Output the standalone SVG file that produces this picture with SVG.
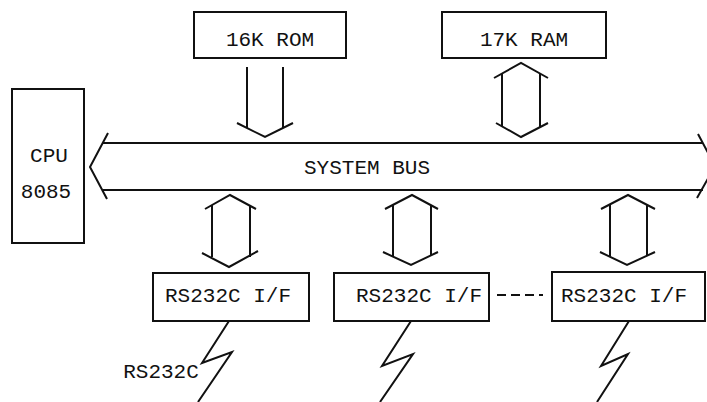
<svg xmlns="http://www.w3.org/2000/svg" width="707" height="402" viewBox="0 0 707 402">
<style>
.b{fill:none;stroke:#111;stroke-width:2;stroke-linejoin:miter}
.l{fill:none;stroke:#111;stroke-width:2}
text{font-family:"Liberation Mono","Courier New",monospace;font-size:21px;fill:#111;text-anchor:middle}
</style>
<rect width="707" height="402" fill="#fff"/>
<g id="rom"><rect class="b" x="194" y="12" width="152" height="46"/><text x="270" y="46">16K ROM</text></g>
<g id="ram"><rect class="b" x="442" y="12" width="164" height="46"/><text x="524" y="46">17K RAM</text></g>
<g id="cpu"><rect class="b" x="12" y="89" width="72" height="154"/><text x="49" y="162">CPU</text><text x="46" y="198">8085</text></g>
<g id="bus">
<line class="l" x1="103" y1="143" x2="703" y2="143"/>
<line class="l" x1="103" y1="190" x2="703" y2="190"/>
<polyline class="l" points="108,133 90,167 107,199"/>
<polyline class="l" points="698,134 715,166 697,198"/>
<text x="367" y="174">SYSTEM BUS</text>
</g>
<g id="rs1"><rect class="b" x="153" y="273" width="156" height="48"/><text x="228" y="302">RS232C I/F</text></g>
<g id="rs2"><rect class="b" x="334" y="273" width="155" height="48"/><text x="419" y="302">RS232C I/F</text></g>
<g id="rs3"><rect class="b" x="552" y="272" width="153" height="49"/><text x="624" y="302">RS232C I/F</text></g>
<g id="connectors">
<line class="l" x1="247" y1="67" x2="247" y2="128"/>
<line class="l" x1="283" y1="67" x2="283" y2="128"/>
<polyline class="l" points="237,123 265,137 293,123"/>
<polyline class="l" points="494,78 521,63 548,78"/>
<line class="l" x1="502" y1="74" x2="502" y2="127"/>
<line class="l" x1="540" y1="74" x2="540" y2="127"/>
<polyline class="l" points="496,123 521,137 548,123"/>
<polyline class="l" points="205,209 230,195 256,209"/>
<line class="l" x1="212" y1="205" x2="212" y2="257"/>
<line class="l" x1="250" y1="205" x2="250" y2="257"/>
<polyline class="l" points="202,253 229,267 258,251"/>
<polyline class="l" points="385,209 412,195 438,209"/>
<line class="l" x1="393" y1="205" x2="393" y2="256"/>
<line class="l" x1="431" y1="205" x2="431" y2="256"/>
<polyline class="l" points="383,252 411,265 438,252"/>
<polyline class="l" points="601,209 628,195 655,209"/>
<line class="l" x1="610" y1="205" x2="610" y2="256"/>
<line class="l" x1="647" y1="205" x2="647" y2="256"/>
<polyline class="l" points="600,252 627,265 655,252"/>
<line class="l" x1="497" y1="295" x2="543" y2="295" stroke-dasharray="9,5"/>
<polyline class="l" points="229,321 202,363 232,352 198,402"/>
<polyline class="l" points="411,321 382,366 413,354 380,402"/>
<polyline class="l" points="629,321 601,366 628,354 597,402"/>
</g>
<text x="161" y="378">RS232C</text>
</svg>
